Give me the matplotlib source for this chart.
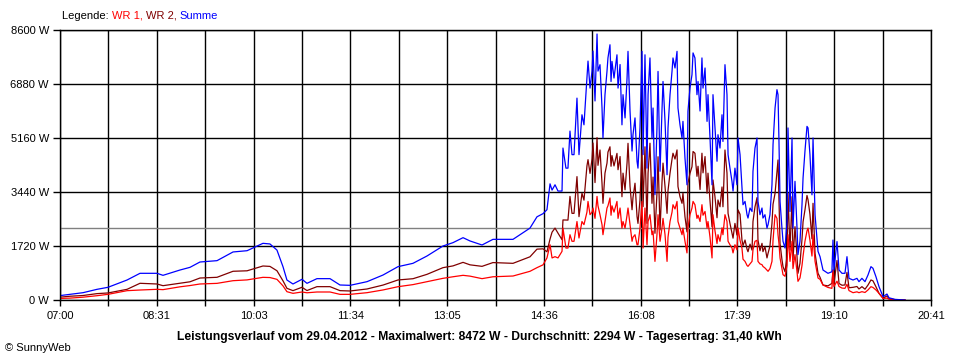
import matplotlib
matplotlib.use('Agg')
import matplotlib.pyplot as plt
import numpy as np

# minutes after 07:00
minutes = [0, 9.4, 21.7, 34.9, 45.2, 63.2, 75.4, 91.4, 97.1, 113.1,
           122.5, 131.9, 148.0, 163.1, 176.3, 191.3, 197.9, 204.5, 210.2, 213.9,
           219.6, 228.1, 232.8, 242.2, 254.5, 263.9, 273.4, 289.4, 304.5, 318.6,
           332.7, 345.9, 361.0, 370.4, 379.9, 386.5, 397.8, 408.1, 427.0, 443.0,
           449.6, 455.3, 459.0, 461.9, 463.8, 466.6, 469.4, 473.2, 474.1, 476.9,
           478.8, 480.7, 482.6, 484.5, 487.3, 489.2, 492.0, 493.9, 496.7, 497.7,
           499.6, 501.5, 502.4, 504.3, 506.2, 507.1, 509.0, 510.9, 511.8, 513.7,
           515.6, 516.5, 518.4, 519.4, 520.3, 522.2, 525.0, 526.0, 527.9, 529.7,
           530.7, 532.6, 534.5, 535.4, 537.3, 539.2, 540.1, 542.0, 543.9, 544.8,
           546.7, 548.6, 549.6, 551.4, 553.3, 554.3, 556.1, 558.0, 559.0, 560.8,
           562.7, 563.7, 565.6, 567.4, 568.4, 570.3, 572.2, 573.1, 575.0, 576.9,
           577.8, 579.7, 581.6, 582.5, 584.4, 586.3, 587.2, 589.1, 591.0, 591.9,
           593.8, 595.7, 596.7, 598.5, 600.4, 601.4, 603.3, 605.1, 606.1, 608.0,
           609.9, 610.8, 612.7, 614.6, 615.5, 617.4, 619.3, 620.2, 622.1, 624.0,
           624.9, 626.8, 628.7, 629.7, 631.5, 633.4, 634.4, 636.2, 638.1, 639.1,
           641.0, 642.8, 643.8, 645.7, 647.6, 648.5, 650.4, 652.3, 653.2, 655.1,
           657.0, 657.9, 659.8, 661.7, 662.6, 664.5, 666.4, 667.4, 669.2, 671.1,
           672.1, 674.0, 675.8, 676.8, 677.7, 678.7, 680.5, 681.5, 683.4, 685.3,
           686.2, 688.1, 690.0, 690.9, 692.8, 694.7, 695.6, 697.5, 699.4, 700.4,
           702.2, 704.1, 705.1, 706.9, 708.8, 709.8, 711.7, 713.5, 714.5, 716.4,
           719.2, 723.9, 727.6, 728.6, 729.5, 732.4, 734.3, 737.1, 739.9, 741.8,
           743.7, 747.5, 751.2, 753.1, 755.9, 758.8, 761.6, 764.4, 766.3, 769.1,
           772.0, 775.8, 779.5, 781.4, 787.1, 796.5]

# Summe (W)
summe = [140, 180, 233, 340, 404, 637, 850, 850, 786, 955,
         1040, 1210, 1253, 1530, 1570, 1805, 1785, 1590, 1060, 637,
         510, 660, 531, 680, 680, 478, 467, 584, 796, 1062,
         1168, 1401, 1720, 1826, 1985, 1880, 1752, 1932, 1932, 2290,
         2650, 2750, 2876, 3700, 3500, 3670, 3470, 3470, 4840, 4200,
         4200, 5380, 4630, 4630, 6430, 4630, 5900, 5580, 7070, 7610,
         6750, 7290, 7930, 6340, 8472, 7290, 7495, 6115, 5160, 6540,
         7290, 7710, 8130, 6960, 7600, 7070, 7810, 6750, 7500, 5580,
         6540, 5800, 7070, 7920, 6020, 4745, 5265, 5800, 4420, 4200,
         5480, 7920, 4630, 7810, 4200, 6540, 7710, 5160, 6115, 3355,
         5480, 7280, 4100, 6020, 6960, 5690, 3990, 5480, 6540, 7290,
         7710, 7390, 7920, 6115, 5580, 5160, 5690, 4520, 3670, 6010,
         6750, 7175, 7870, 7710, 6540, 6960, 6020, 7710, 6750, 7390,
         5690, 6540, 5160, 3670, 6540, 5480, 4420, 5265, 4840, 5900,
         5050, 7495, 6540, 4630, 4200, 3780, 3470, 4200, 3670, 5160,
         4630, 3570, 3035, 3140, 2717, 2610, 2930, 2820, 4100, 4840,
         5160, 3140, 2717, 2930, 2610, 2717, 2290, 2400, 2717, 3670,
         4950, 6115, 6700, 6540, 5050, 3140, 2290, 1870, 1655, 2500,
         5480, 2820, 5160, 2290, 3780, 2290, 1445, 1870, 3035, 3890,
         4740, 5530, 5480, 4630, 3350, 5160, 2717, 1975, 1550, 1380,
         955, 850, 900, 1910, 955, 1860, 955, 850, 850, 1380,
         690, 637, 690, 584, 690, 584, 796, 1062, 1010, 743,
         424, 106, 190, 70, 20, 0]

# WR 1 (W)
wr1 = [50, 60, 90, 137, 180, 297, 318, 340, 330, 420,
       460, 510, 530, 615, 640, 722, 715, 658, 450, 265,
       212, 255, 230, 255, 255, 180, 180, 233, 320, 424,
       490, 584, 690, 740, 786, 760, 680, 740, 764, 914,
       1030, 1120, 1340, 1760, 1340, 1380, 1340, 1550, 2290, 1655,
       1655, 2080, 1870, 1870, 2500, 1975, 2500, 2400, 2800, 3140,
       2717, 2800, 2930, 2600, 3300, 3000, 2717, 2400, 2080, 2500,
       2930, 3000, 3250, 2700, 3000, 2800, 3140, 2600, 2930, 2290,
       2500, 2290, 2700, 2930, 2400, 1870, 2000, 2080, 1760, 1760,
       2290, 3140, 1655, 2930, 1760, 2500, 2717, 2080, 2200, 1230,
       2080, 2717, 1870, 2290, 2600, 2080, 1230, 2000, 2500, 2800,
       3035, 2900, 3140, 2500, 2290, 2080, 2290, 1870, 1500, 2290,
       2717, 2930, 3140, 3035, 2600, 2700, 2500, 3035, 2700, 2820,
       2290, 2500, 2000, 1340, 2717, 2200, 1800, 2080, 1870, 2300,
       2080, 2717, 2500, 1870, 1760, 1655, 1500, 1760, 1600, 2290,
       1900, 1655, 1300, 1230, 1100, 1072, 1150, 1230, 1600, 1870,
       1900, 1230, 1150, 1125, 1070, 1020, 950, 914, 1000, 1230,
       1900, 2717, 2600, 2080, 1800, 1340, 1000, 807, 755, 1100,
       2080, 1230, 1870, 1000, 1445, 900, 595, 700, 1100, 1400,
       1870, 2200, 2290, 1900, 1400, 2080, 1230, 900, 700, 658,
       478, 400, 371, 955, 430, 600, 430, 380, 371, 500,
       300, 233, 260, 233, 265, 240, 320, 424, 400, 320,
       212, 50, 60, 25, 10, 0]

x_labels = ['07:00', '08:31', '10:03', '11:34', '13:05', '14:36',
            '16:08', '17:39', '19:10', '20:41']
y_ticks = [0, 1720, 3440, 5160, 6880, 8600]
durchschnitt = 2294

t = np.array(minutes)
summe = np.array(summe)
wr1 = np.array(wr1)
wr2 = summe - wr1

plt.rcParams['font.family'] = ['Liberation Sans', 'DejaVu Sans']
plt.rcParams['font.size'] = 8

fig = plt.figure(figsize=(9.6, 3.6), dpi=100)
ax = fig.add_axes([60/960, 60/360, 871/960, 270/360])

ax.axhline(durchschnitt, color='#808080', lw=1, zorder=1.5)
ax.plot(t, wr2, color='#800000', lw=0.9)
ax.plot(t, wr1, color='#ff0000', lw=0.9)
ax.plot(t, summe, color='#0000ff', lw=0.9)

ax.set_xlim(0, 821)
ax.set_ylim(0, 8600)
ax.set_xticks(np.linspace(0, 821, 10))
ax.set_xticklabels(x_labels)
ax.set_xticks(np.linspace(0, 821, 19), minor=True)
ax.set_yticks(y_ticks)
ax.set_yticklabels([f'{v} W' for v in y_ticks])
ax.set_axisbelow(True)
ax.grid(True, which='both', color='black', lw=1)
ax.tick_params(which='both', direction='out', length=4, width=1, color='black')
ax.tick_params(axis='y', length=5, pad=3)
ax.tick_params(axis='x', pad=4)
for s in ax.spines.values():
    s.set_color('black')
    s.set_linewidth(1)

# legend line at the top
r = fig.canvas.get_renderer()
xpos = 62
for s, c in [('Legende: ', 'black'), ('WR 1, ', '#ff0000'),
             ('WR 2, ', '#800000'), ('Summe', '#0000ff')]:
    txt = fig.text(xpos/960, 1 - 16/360, s, color=c, va='center', ha='left')
    xpos += txt.get_window_extent(renderer=r).width

fig.text(479/960, 1 - 337/360,
         'Leistungsverlauf vom 29.04.2012 - Maximalwert: 8472 W - '
         'Durchschnitt: 2294 W - Tagesertrag: 31,40 kWh',
         ha='center', va='center', fontweight='bold', fontsize=8.75)
fig.text(5/960, 1 - 348/360, '© SunnyWeb', ha='left', va='center', fontsize=8)

fig.savefig('out.png', dpi=100)
